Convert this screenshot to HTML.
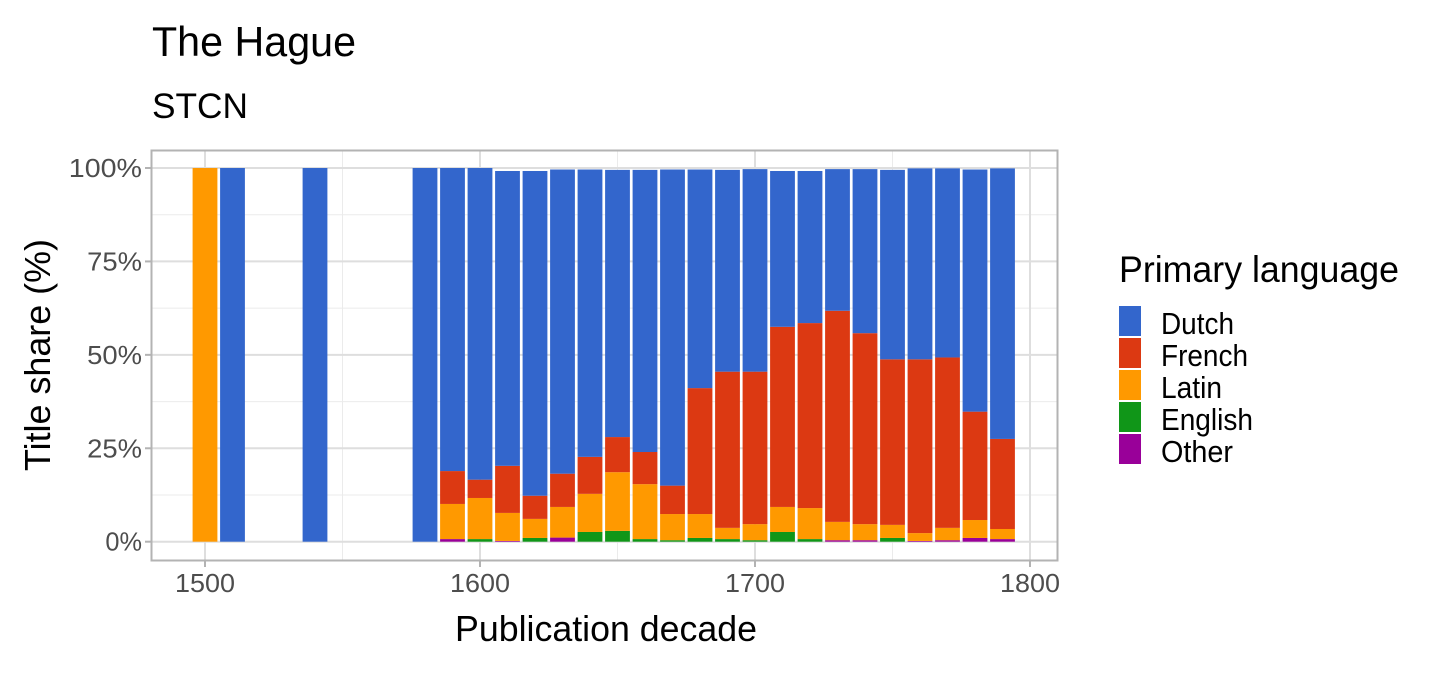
<!DOCTYPE html>
<html><head><meta charset="utf-8"><style>
html,body{margin:0;padding:0;background:#fff;}
svg text{font-family:"Liberation Sans Narrow","Liberation Sans",sans-serif;}
</style></head><body>
<svg id="chart" width="1440" height="672" viewBox="0 0 1440 672" xmlns="http://www.w3.org/2000/svg">
<text x="152" y="56" font-size="42" textLength="204" lengthAdjust="spacingAndGlyphs" fill="#000">The Hague</text>
<text x="152" y="118" font-size="35" textLength="96" lengthAdjust="spacingAndGlyphs" fill="#000">STCN</text>
<g id="grid"></g>
<g id="bars"></g>
<rect x="151.5" y="150.5" width="906" height="410" fill="none" stroke="#b3b3b3" stroke-width="2"/>
<g id="axes"></g>
<text x="606" y="641" font-size="36" text-anchor="middle" textLength="302" lengthAdjust="spacingAndGlyphs">Publication decade</text>
<text transform="translate(50,355) rotate(-90)" font-size="36" text-anchor="middle" textLength="232" lengthAdjust="spacingAndGlyphs">Title share (%)</text>
<g id="legend">
<text x="1119" y="282" font-size="37" textLength="280" lengthAdjust="spacingAndGlyphs">Primary language</text>
</g>
</svg>
<script>
const decades = [1500,1510,1540,1580,1590,1600,1610,1620,1630,1640,1650,1660,1670,1680,1690,1700,1710,1720,1730,1740,1750,1760,1770,1780,1790];
const dutch   = [0,100,100,100,81.1,83.4,78.9,86.9,81.4,76.9,71.5,75.5,84.6,58.5,54.0,54.2,41.7,40.7,37.9,43.9,50.7,51.1,50.6,64.8,72.4];
const french  = [0,0,0,0,8.8,4.9,12.6,6.2,8.9,9.9,9.4,8.6,7.6,33.7,41.8,40.8,48.2,49.5,56.5,51.1,44.3,46.5,45.6,29.0,24.1];
const latin   = [100,0,0,0,9.4,11.0,7.5,5.1,8.2,10.2,15.7,14.7,7.0,6.4,3.0,4.3,6.7,8.3,4.9,4.3,3.5,2.1,3.3,4.8,2.7];
const english = [0,0,0,0,0,0.7,0,1.0,0,2.6,2.9,0.7,0.4,1.0,0.7,0.4,2.6,0.7,0,0,1.0,0,0,0,0];
const other   = [0,0,0,0,0.7,0,0.2,0,1.1,0,0,0,0,0,0,0,0,0,0.4,0.4,0,0.2,0.4,1.0,0.7];
const languages = ["Dutch","French","Latin","English","Other"];
const colors = ["#3366cc","#dc3912","#ff9900","#109618","#990099"];
const yTicks = [0,25,50,75,100];
const yTickLabels = ["0%","25%","50%","75%","100%"];
const xTicks = [1500,1600,1700,1800];

const NS="http://www.w3.org/2000/svg";
const xs = v => 205 + (v-1500)*2.75;
const ys = v => 541.7 - v*3.737;
function mk(tag, attrs, parent){const e=document.createElementNS(NS,tag);for(const k in attrs)e.setAttribute(k,attrs[k]);parent.appendChild(e);return e;}
const grid=document.getElementById('grid'), bars=document.getElementById('bars'), axes=document.getElementById('axes'), legend=document.getElementById('legend');
const legendWidths=[73,87,61,92,72];

for(let i=0;i<yTicks.length-1;i++){const v=(yTicks[i]+yTicks[i+1])/2;
  const l=mk('line',{x1:152,x2:1057,y1:ys(v),y2:ys(v),stroke:'#ebebeb','stroke-width':1},grid);
  
  }
for(let i=0;i<xTicks.length-1;i++){const v=(xTicks[i]+xTicks[i+1])/2;
  const l=mk('line',{x1:xs(v),x2:xs(v),y1:151,y2:560,stroke:'#ebebeb','stroke-width':1},grid);
  
  }
yTicks.forEach((v,i)=>{
  const l=mk('line',{x1:152,x2:1057,y1:ys(v),y2:ys(v),stroke:'#dedede','stroke-width':2},grid);
  
  
  const t=mk('line',{x1:145,x2:151,y1:ys(v),y2:ys(v),stroke:'#b3b3b3','stroke-width':2},axes);
  
  
  const lbl=yTickLabels[i];
  const tx=mk('text',{x:142,y:ys(v)+9,'font-size':26,'text-anchor':'end',fill:'#4d4d4d',textLength:lbl.length*18.3,lengthAdjust:'spacingAndGlyphs'},axes);
  tx.textContent=lbl;
  
  
});
xTicks.forEach(v=>{
  const l=mk('line',{x1:xs(v),x2:xs(v),y1:151,y2:560,stroke:'#dedede','stroke-width':2},grid);
  
  
  const t=mk('line',{x1:xs(v),x2:xs(v),y1:561,y2:567,stroke:'#b3b3b3','stroke-width':2},axes);
  
  
  const tx=mk('text',{x:xs(v),y:592,'font-size':26,'text-anchor':'middle',fill:'#4d4d4d',textLength:60,lengthAdjust:'spacingAndGlyphs'},axes);
  tx.textContent=String(v);
  
  
});
const series=[dutch,french,latin,english,other];
decades.forEach((d,i)=>{
  let cum=0;
  for(let s=series.length-1;s>=0;s--){
    const v=series[s][i]; if(v<=0) continue;
    const r=mk('rect',{x:xs(d)-12.4,width:24.8,y:ys(cum+v),height:ys(cum)-ys(cum+v),fill:colors[s]},bars);
    
    
    cum+=v;
  }
});
languages.forEach((n,i)=>{
  const r=mk('rect',{x:1119,y:306+i*32,width:22,height:30,fill:colors[i]},legend);
  
  
  const t=mk('text',{x:1161,y:334+i*32,'font-size':31,textLength:legendWidths[i],lengthAdjust:'spacingAndGlyphs'},legend);
  t.textContent=n;
  
  
});
</script>
</body></html>
